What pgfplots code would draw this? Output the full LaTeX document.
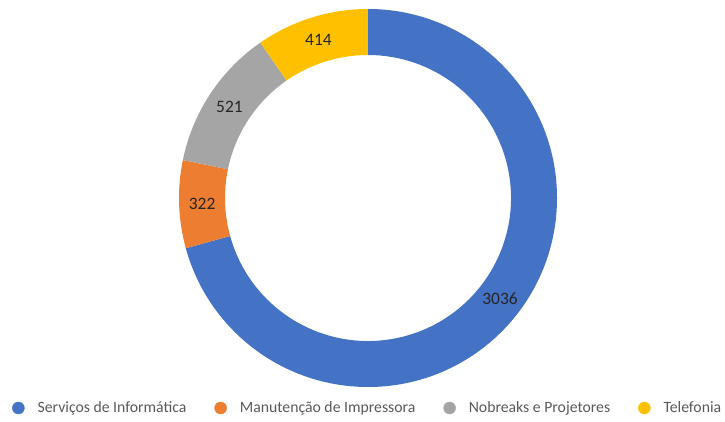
\documentclass[border=0pt]{standalone}
\usepackage{pgfplots}
\pgfplotsset{compat=1.18}
\usepackage{pgfplotstable}
\usepackage{fontspec}
\setmainfont{Carlito}

\definecolor{c0}{HTML}{4472C4}
\definecolor{c1}{HTML}{ED7D31}
\definecolor{c2}{HTML}{A5A5A5}
\definecolor{c3}{HTML}{FFC000}

\pgfplotstableread[col sep=comma]{
label,value
Serviços de Informática,3036
Manutenção de Impressora,322
Nobreaks e Projetores,521
Telefonia,414
}\donut

% total of the values
\gdef\total{0}
\foreach \i in {0,...,3}{%
  \pgfplotstablegetelem{\i}{value}\of\donut
  \pgfmathsetmacro\t{\total+\pgfplotsretval}%
  \xdef\total{\t}%
}
% wedge angles, clockwise from 12 o'clock
\gdef\angS{90}
\foreach \i in {0,...,3}{%
  \pgfplotstablegetelem{\i}{value}\of\donut
  \expandafter\xdef\csname val\i\endcsname{\pgfplotsretval}%
  \pgfmathsetmacro\angE{\angS-\pgfplotsretval/\total*360}%
  \pgfmathsetmacro\angM{(\angS+\angE)/2}%
  \expandafter\xdef\csname s\i\endcsname{\angS}%
  \expandafter\xdef\csname e\i\endcsname{\angE}%
  \expandafter\xdef\csname m\i\endcsname{\angM}%
  \xdef\angS{\angE}%
}

\def\Rout{189bp}
\def\Rin{143bp}

\begin{document}
\begin{tikzpicture}
\begin{axis}[
    name=ax,
    x=1bp, y=1bp,
    xmin=-368, xmax=357,
    ymin=-223, ymax=198,
    hide axis,
    legend columns=4,
    legend style={
        at={(axis cs:-356,-210)}, anchor=west,
        draw=none, fill=none, inner sep=0pt,
        nodes={inner sep=1bp},
        font=\fontsize{15.8}{19}\selectfont,
        text=black!65,
        /tikz/every odd column/.append style={column sep=12bp},
        /tikz/every even column/.append style={column sep=27bp},
    },
]
\pgfplotsinvokeforeach{0,...,3}{
  \fill[c#1] (axis cs:0,0) ++(\csname s#1\endcsname:\Rout)
     arc[start angle=\csname s#1\endcsname, end angle=\csname e#1\endcsname, radius=\Rout]
     -- ++(\csname e#1\endcsname:-46bp)
     arc[start angle=\csname e#1\endcsname, end angle=\csname s#1\endcsname, radius=\Rin]
     -- cycle;
  \node[shift={(\csname m#1\endcsname:166bp)}, text=black!85,
        font=\fontsize{17.5}{17.5}\selectfont] at (axis cs:0,0) {\csname val#1\endcsname};
}
\addlegendimage{c0, legend image code/.code={\fill (6bp,0bp) circle (6bp);}}
\addlegendentry{Serviços de Informática}
\addlegendimage{c1, legend image code/.code={\fill (6bp,0bp) circle (6bp);}}
\addlegendentry{Manutenção de Impressora}
\addlegendimage{c2, legend image code/.code={\fill (6bp,0bp) circle (6bp);}}
\addlegendentry{Nobreaks e Projetores}
\addlegendimage{c3, legend image code/.code={\fill (6bp,0bp) circle (6bp);}}
\addlegendentry{Telefonia}
\end{axis}
\pgfresetboundingbox
\useasboundingbox (ax.south west) rectangle (ax.north east);
\end{tikzpicture}
\end{document}
